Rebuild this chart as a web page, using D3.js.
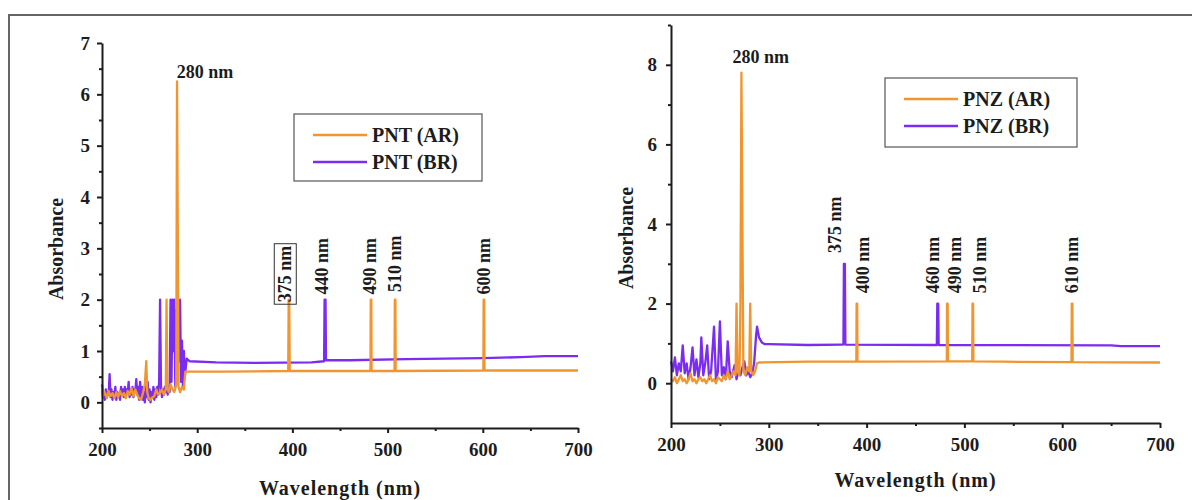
<!DOCTYPE html>
<html>
<head>
<meta charset="utf-8">
<script src="https://cdn.jsdelivr.net/npm/d3@7"></script>
<style>
    body { margin: 0; background: #fff; }
    svg { display: block; }
    text { font-family: "Liberation Serif", "Times New Roman", serif; font-weight: bold; fill: #1c1c1c; }
</style>
</head>
<body>
<svg id="chart" width="1192" height="500"></svg>
<script>
// ===========================
// UV-Vis absorbance spectra
// PNT (left) and PNZ (right), AR vs BR
// ===========================

// --- data: [wavelength nm, absorbance] ---
const pntAR = [
    [200,0.3],[201,0.12],[203,0.2],[205,0.08],[207,0.22],[209,0.12],[211,0.18],[213,0.08],
    [215,0.2],[217,0.1],[219,0.22],[221,0.12],[223,0.18],[225,0.08],[227,0.22],[229,0.15],
    [231,0.28],[233,0.12],[235,0.25],[237,0.15],[239,0.08],[241,0.05],[243,0.18],[245,0.35],
    [246.5,0.8],[247.5,0.2],[249,0.08],[251,0.05],[253,0.1],[255,0.12],[257,0.25],[259,0.15],
    [261,0.18],[263,0.25],[265,0.15],[267,0.25],[267.8,2.0],[268.6,0.3],[270,0.2],[272,0.35],
    [274,0.25],[276,0.2],[278,0.35],[278.8,6.25],[279.6,3.4],[280.4,0.3],[282,0.2],[284,0.3],
    [286,0.25],[287.5,0.6],[330,0.6],
    [395.6,0.61],[396.1,2.0],[396.7,2.0],[397.2,0.61],
    [482.0,0.61],[482.3,2.0],[482.9,2.0],[483.2,0.61],
    [507.3,0.61],[507.6,2.0],[508.2,2.0],[508.5,0.61],
    [600.6,0.62],[600.9,2.0],[601.5,2.0],[601.8,0.62],[700,0.62]
];
const pntBR = [
    [200,0.35],[201,0.1],[202,0.2],[203,0.05],[204,0.25],[205,0.1],[206,0.2],[207,0.15],
    [208,0.55],[209,0.1],[210,0.25],[211,0.05],[212,0.2],[213,0.1],[214,0.3],[215,0.05],
    [216,0.2],[217,0.1],[218,0.15],[219,0.05],[220,0.3],[221,0.15],[222,0.25],[223,0.1],
    [224,0.3],[225,0.15],[226,0.25],[227,0.2],[228,0.4],[229,0.1],[230,0.25],[231,0.15],
    [232,0.3],[233,0.1],[234,0.25],[235,0.2],[236,0.45],[237,0.15],[238,0.3],[239,0.05],
    [240,0.4],[241,0.1],[242,0.3],[243,0.05],[244,0.2],[245,0.0],[246,0.3],[247,0.1],
    [248,0.4],[249,0.05],[250,0.25],[251,0.0],[252,0.2],[253,0.1],[254,0.3],[255,0.05],
    [256,0.25],[257,0.1],[258,0.3],[259,0.15],[260,0.4],[261,2.0],[262,0.3],[263,0.1],
    [264,0.25],[265,0.15],[266,0.3],[267,0.2],[268,0.4],[269,0.15],[270,0.3],[271,0.2],
    [272,2.0],[273,0.4],[274,2.0],[275,1.0],[276,2.0],[277,0.3],[278,1.8],[279,0.5],
    [280,2.0],[281,0.8],[282,2.0],[283,0.4],[284,1.2],[285,0.3],[286,1.0],[287,0.5],
    [289,0.85],[292,0.8],[320,0.78],[360,0.77],[420,0.78],[433.3,0.8],[433.8,2.0],[434.8,2.0],
    [435.3,0.82],[460,0.82],[520,0.84],[560,0.85],[600,0.86],[640,0.88],[665,0.9],[700,0.9]
];
const pnzAR = [
    [200,0.1],[202,0.05],[204,0.15],[206,0.0],[208,0.1],[210,0.2],[212,0.05],[214,0.1],
    [216,0.0],[218,0.1],[220,0.25],[222,0.05],[224,0.1],[226,0.0],[228,0.1],[230,0.15],
    [232,0.05],[234,0.1],[236,0.0],[238,0.1],[240,0.2],[242,0.05],[244,0.1],[246,0.0],
    [248,0.15],[250,0.1],[252,0.05],[254,0.2],[256,0.1],[258,0.3],[260,0.1],[262,0.2],
    [264,0.3],[266,0.2],[267,2.0],[268,0.3],[270,0.2],[271,2.0],[272,7.8],[273,4.0],
    [274,0.3],[276,0.2],[278,0.4],[280,0.3],[281,2.0],[282,0.3],[284,0.2],[286,0.3],
    [288,0.5],[290,0.52],[340,0.54],
    [389.5,0.54],[389.8,2.0],[390.4,2.0],[390.7,0.54],
    [482.0,0.55],[482.3,2.0],[482.9,2.0],[483.2,0.55],
    [508.0,0.55],[508.3,2.0],[508.9,2.0],[509.2,0.55],
    [540,0.54],[609.5,0.53],[609.8,2.0],[610.4,2.0],[610.7,0.53],[700,0.52]
];
const pnzBR = [
    [200,0.55],[202,0.3],[204,0.65],[206,0.2],[208,0.5],[210,0.3],[212,0.95],[214,0.25],
    [216,0.5],[218,0.1],[220,0.4],[222,0.9],[224,0.2],[226,0.6],[228,0.15],[230,0.5],
    [231,1.15],[233,0.2],[235,0.5],[237,0.95],[239,0.1],[241,0.3],[244,1.42],[246,0.05],
    [248,0.3],[250,1.55],[252,0.2],[254,0.4],[256,0.1],[258,1.05],[260,0.3],[262,0.15],
    [264,0.35],[265,0.45],[267,0.1],[269,0.3],[271,0.2],[273,0.4],[275,0.55],[277,0.2],
    [279,0.3],[281,0.15],[283,0.25],[285,0.5],[287,1.2],[288,1.42],[290,1.15],[293,1.02],
    [296,0.98],[300,0.98],[340,0.96],[375,0.97],[376.3,0.97],[376.8,3.0],[377.8,3.0],[378.3,0.97],
    [471.8,0.96],[472.3,2.0],[473.2,2.0],[473.7,0.96],[650,0.95],[660,0.93],[700,0.93]
];

// tick values
const xTicks = [200, 300, 400, 500, 600, 700];
const xMinor = [250, 350, 450, 550, 650];
const pntYTicks = [0, 1, 2, 3, 4, 5, 6, 7];
const pntYMinor = [-0.5, 0.5, 1.5, 2.5, 3.5, 4.5, 5.5, 6.5];
const pnzYTicks = [0, 2, 4, 6, 8];
const pnzYMinor = [1, 3, 5, 7, 9];

// peak annotations: text, wavelength, absorbance of the label's foot
const pntLabels = [
    { text: '280 nm', w: 278.5, a: 6.32, rotate: false },
    { text: '375 nm', w: 392.2, a: 1.95, rotate: true, boxed: true },
    { text: '440 nm', w: 431, a: 2.1, rotate: true },
    { text: '490 nm', w: 481.5, a: 2.1, rotate: true },
    { text: '510 nm', w: 507.8, a: 2.15, rotate: true },
    { text: '600 nm', w: 601.3, a: 2.1, rotate: true }
];
const pnzLabels = [
    { text: '280 nm', w: 263, a: 8.05, rotate: false },
    { text: '375 nm', w: 367.7, a: 3.27, rotate: true },
    { text: '400 nm', w: 396.3, a: 2.26, rotate: true },
    { text: '460 nm', w: 468, a: 2.26, rotate: true },
    { text: '490 nm', w: 490.4, a: 2.26, rotate: true },
    { text: '510 nm', w: 516, a: 2.26, rotate: true },
    { text: '610 nm', w: 610, a: 2.26, rotate: true }
];

const orange = '#f0952f';
const purple = '#7b2cf2';

const svg = d3.select('#chart');

// outer frame of the figure
svg.append('rect')
    .attr('x', 9).attr('y', 15)
    .attr('width', 1200).attr('height', 500)
    .attr('fill', 'none')
    .attr('stroke', '#666')
    .attr('stroke-width', 2);

const panels = [
    {
        series: [ { name: 'PNT (BR)', data: pntBR, color: purple }, { name: 'PNT (AR)', data: pntAR, color: orange } ],
        legendOrder: [ { name: 'PNT (AR)', color: orange }, { name: 'PNT (BR)', color: purple } ],
        yDomain: [-0.5, 7], yTicks: pntYTicks, yMinor: pntYMinor,
        labels: pntLabels,
        left: 102, right: 578, top: 43, bottom: 428,
        legend: { x: 294, y: 114, w: 188, h: 67 },
        yTitle: { x: 56, y: 249 }, xTitleY: 495, yPad: 7
    },
    {
        series: [ { name: 'PNZ (BR)', data: pnzBR, color: purple }, { name: 'PNZ (AR)', data: pnzAR, color: orange } ],
        legendOrder: [ { name: 'PNZ (AR)', color: orange }, { name: 'PNZ (BR)', color: purple } ],
        yDomain: [-1, 9], yTicks: pnzYTicks, yMinor: pnzYMinor,
        labels: pnzLabels,
        left: 671, right: 1160, top: 25, bottom: 423,
        legend: { x: 885, y: 78, w: 192, h: 69 },
        yTitle: { x: 626, y: 238 }, xTitleY: 487, yPad: 9
    }
];

panels.forEach(drawPanel);

function drawPanel(p) {
    const x = d3.scaleLinear().domain([200, 700]).range([p.left, p.right]);
    const y = d3.scaleLinear().domain(p.yDomain).range([p.bottom, p.top]);
    const g = svg.append('g');

    // spectra
    const line = d3.line().x(d => x(d[0])).y(d => y(d[1]));
    p.series.forEach(s => {
        g.append('path')
            .datum(s.data)
            .attr('d', line)
            .attr('fill', 'none')
            .attr('stroke', s.color)
            .attr('stroke-width', 2.3)
            .attr('stroke-linejoin', 'round');
    });

    // axes
    const xAxis = g.append('g')
        .attr('transform', `translate(0,${p.bottom})`)
        .call(d3.axisBottom(x).tickValues(xTicks).tickSize(5).tickSizeOuter(0).tickPadding(10));
    g.append('g')
        .attr('transform', `translate(0,${p.bottom})`)
        .call(d3.axisBottom(x).tickValues(xMinor).tickSize(3).tickFormat(''))
        .call(a => a.select('.domain').remove());
    const yAxis = g.append('g')
        .attr('transform', `translate(${p.left},0)`)
        .call(d3.axisLeft(y).tickValues(p.yTicks).tickSize(5).tickSizeOuter(0).tickPadding(p.yPad));
    g.append('g')
        .attr('transform', `translate(${p.left},0)`)
        .call(d3.axisLeft(y).tickValues(p.yMinor).tickSize(3).tickFormat(''))
        .call(a => a.select('.domain').remove());

    g.selectAll('.domain').attr('stroke', '#1c1c1c').attr('stroke-width', 2);
    g.selectAll('.tick line').attr('stroke', '#1c1c1c').attr('stroke-width', 2);
    [xAxis, yAxis].forEach(a => a.selectAll('text')
        .attr('font-size', '19px')
        .attr('font-family', '"Liberation Serif", serif')
        .attr('font-weight', 'bold')
        .attr('fill', '#1c1c1c'));

    // axis titles
    g.append('text')
        .attr('transform', `translate(${p.yTitle.x},${p.yTitle.y}) rotate(-90)`)
        .attr('dy', '0.35em')
        .attr('text-anchor', 'middle')
        .attr('font-size', '20px')
        .text('Absorbance');
    g.append('text')
        .attr('x', (p.left + p.right) / 2)
        .attr('y', p.xTitleY)
        .attr('text-anchor', 'middle')
        .attr('font-size', '20px')
        .attr('letter-spacing', '1px')
        .text('Wavelength (nm)');

    // peak labels
    p.labels.forEach(l => {
        if (!l.rotate) {
            g.append('text')
                .attr('x', x(l.w))
                .attr('y', y(l.a))
                .attr('font-size', '18px')
                .text(l.text);
            return;
        }
        const lg = g.append('g')
            .attr('transform', `translate(${x(l.w)},${y(l.a)}) rotate(-90)`);
        const t = lg.append('text')
            .attr('dy', '0.35em')
            .attr('font-size', '18px')
            .text(l.text);
        if (l.boxed) {
            const b = t.node().getBBox();
            lg.insert('rect', 'text')
                .attr('x', b.x - 2).attr('y', b.y - 1)
                .attr('width', b.width + 4).attr('height', b.height + 2)
                .attr('fill', 'none')
                .attr('stroke', '#333')
                .attr('stroke-width', 1);
        }
    });

    // legend
    const lb = p.legend;
    const leg = g.append('g').attr('transform', `translate(${lb.x},${lb.y})`);
    leg.append('rect')
        .attr('width', lb.w).attr('height', lb.h)
        .attr('fill', '#fff')
        .attr('stroke', '#555')
        .attr('stroke-width', 1.2);
    p.legendOrder.forEach((s, i) => {
        const cy = 21 + i * 27;
        leg.append('line')
            .attr('x1', 19).attr('x2', 73)
            .attr('y1', cy).attr('y2', cy)
            .attr('stroke', s.color)
            .attr('stroke-width', 2.5);
        leg.append('text')
            .attr('x', 78).attr('y', cy)
            .attr('dy', '0.35em')
            .attr('font-size', '20px')
            .text(s.name);
    });
}
</script>
</body>
</html>
